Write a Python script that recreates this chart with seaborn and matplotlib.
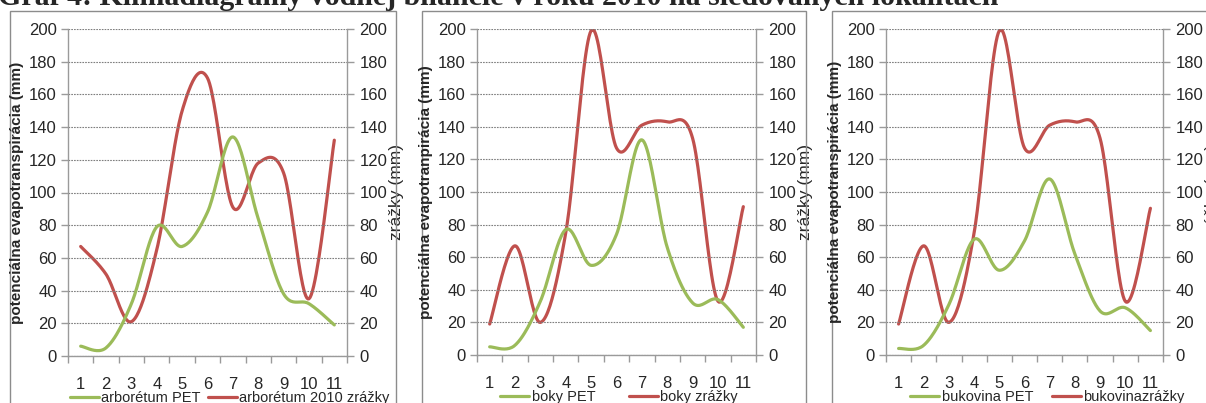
import numpy as np
import pandas as pd
import matplotlib
matplotlib.use("Agg")
import matplotlib.pyplot as plt
import seaborn as sns
from matplotlib.patches import Rectangle
from matplotlib.ticker import MultipleLocator, FixedLocator

# ---- data -------------------------------------------------------------
months = list(range(1, 12))
month_labels = [str(m) for m in months]

arboretum_pet = [6, 5, 32, 79, 67, 88, 134, 84, 38, 32, 19]
arboretum_zrazky = [67, 50, 21, 65, 150, 170, 91, 118, 112, 35, 132]

boky_pet = [5, 6, 33, 77, 55, 74, 132, 66, 32, 34, 17]
boky_zrazky = [19, 67, 20, 75, 199, 127, 141, 143, 133, 33, 91]

bukovina_pet = [4, 6, 31, 71, 52, 70, 108, 62, 27, 29, 15]
bukovina_zrazky = [19, 67, 20, 75, 199, 127, 141, 143, 133, 33, 90]

left_labels = ["potenciálna evapotranspirácia (mm)",
               "potenciálna evapotranpirácia (mm)",
               "potenciálna evapotranspirácia (mm)"]
right_label = "zrážky (mm)"
pet_names = ["arborétum PET", "boky PET", "bukovina PET"]
rain_names = ["arborétum 2010 zrážky", "boky zrážky", "bukovinazrážky"]
title = "Graf 4: Klimadiagramy vodnej bilancie v roku 2010 na sledovaných lokalitách"

# ---- style ------------------------------------------------------------
sns.set_theme(style="white")
plt.rcParams["font.family"] = ["Liberation Sans Narrow", "Liberation Sans", "DejaVu Sans"]

GREEN = "#9BBB59"
RED = "#C0504D"
AXIS_GREY = "#9a9a9a"
GRID_GREY = "#7f7f7f"

W, H = 1206, 403


def smooth_curve(x, y, n=24):
    """Bezier smoothing through every point (spreadsheet-style smoothed line)."""
    pts = np.column_stack([x, y]).astype(float)
    P = np.vstack([pts[0], pts, pts[-1]])
    segs = []
    for i in range(1, len(P) - 2):
        p0, p1, p2, p3 = P[i - 1], P[i], P[i + 1], P[i + 2]
        c1 = p1 + (p2 - p0) / 6.0
        c2 = p2 - (p3 - p1) / 6.0
        t = np.linspace(0, 1, n, endpoint=(i == len(P) - 3))[:, None]
        segs.append((1 - t) ** 3 * p1 + 3 * (1 - t) ** 2 * t * c1
                    + 3 * (1 - t) * t ** 2 * c2 + t ** 3 * p2)
    c = np.vstack(segs)
    return pd.DataFrame({"mesiac": c[:, 0], "mm": c[:, 1]})


def px_box(left, right, top, bottom):
    return [left / W, 1 - bottom / H, (right - left) / W, (bottom - top) / H]


fig = plt.figure(figsize=(W / 100, H / 100), dpi=100)

# chart frames
for x0, x1 in [(10, 396), (422, 806), (832, 1220)]:
    fig.patches.append(Rectangle((x0 / W, -0.05), (x1 - x0) / W, 1.05 - 11 / H,
                                 transform=fig.transFigure, fill=False,
                                 edgecolor="#8c8c8c", lw=1.0, zorder=0))

fig.text(-2 / W, 1 - 5 / H, title, va="baseline", ha="left",
         family="Liberation Serif", weight="bold", fontsize=21.5)

panels = [
    (arboretum_pet, arboretum_zrazky, (68, 347, 29, 356), -0.02, 0.5),
    (boky_pet, boky_zrazky, (477, 756, 29, 355), 0.057, 2.3),
    (bukovina_pet, bukovina_zrazky, (886, 1163, 29, 355), 0.061, 1.3),
]

for k, (pet, rain, box, leg_x, colsp) in enumerate(panels):
    ax = fig.add_axes(px_box(*box))
    ax2 = ax.twinx()

    sns.lineplot(data=smooth_curve(months, pet), x="mesiac", y="mm", sort=False,
                 ax=ax, color=GREEN, lw=2.3, label=pet_names[k], legend=False)
    sns.lineplot(data=smooth_curve(months, rain), x="mesiac", y="mm", sort=False,
                 ax=ax2, color=RED, lw=2.3, label=rain_names[k], legend=False)

    for a in (ax, ax2):
        a.set_xlim(0.5, 11.5)
        a.set_ylim(0, 200)
        a.yaxis.set_major_locator(MultipleLocator(20))
        for s in a.spines.values():
            s.set_visible(False)
        a.set_xlabel("")
        a.patch.set_visible(False)

    ax.set_zorder(ax2.get_zorder() + 1)
    ax.spines["left"].set_visible(True)
    ax.spines["bottom"].set_visible(True)
    ax2.spines["right"].set_visible(True)
    for s in (ax.spines["left"], ax.spines["bottom"], ax2.spines["right"]):
        s.set_color(AXIS_GREY)
        s.set_linewidth(1.0)

    ax.grid(axis="y", color=GRID_GREY, linestyle=(0, (1.5, 1.0)), lw=0.8)
    ax.grid(axis="x", visible=False)
    ax2.grid(False)

    ax.xaxis.set_major_locator(FixedLocator(months))
    ax.set_xticklabels(month_labels)
    ax.xaxis.set_minor_locator(FixedLocator(np.arange(0.5, 12, 1.0)))
    ax.tick_params(axis="x", which="major", length=0, pad=15, labelsize=12)
    ax.tick_params(axis="x", which="minor", length=5, width=1, color=AXIS_GREY,
                   direction="out", bottom=True)
    ax.tick_params(axis="y", length=5, width=1, color=AXIS_GREY, direction="out",
                   pad=3, labelsize=12, left=True)
    ax2.tick_params(axis="y", length=5, width=1, color=AXIS_GREY, direction="out",
                    pad=4, labelsize=12, right=True)

    ax.set_ylabel(left_labels[k], fontsize=11, weight="bold",
                  family=["Liberation Sans", "DejaVu Sans"])
    ax.yaxis.set_label_coords(-44 / (box[1] - box[0]), 0.5)
    ax2.set_ylabel(right_label, fontsize=12.5, rotation=90)
    ax2.yaxis.set_label_coords(1 + 42 / (box[1] - box[0]), 0.5)

    handles = ax.get_lines()[:1] + ax2.get_lines()[:1]
    ax.legend(handles, [pet_names[k], rain_names[k]], ncol=2, frameon=False,
              loc="center left", bbox_to_anchor=(leg_x, -0.128),
              borderpad=0, handlelength=2.0, handletextpad=0.15,
              columnspacing=colsp, fontsize=10.5)

fig.savefig("out.png", dpi=100)
